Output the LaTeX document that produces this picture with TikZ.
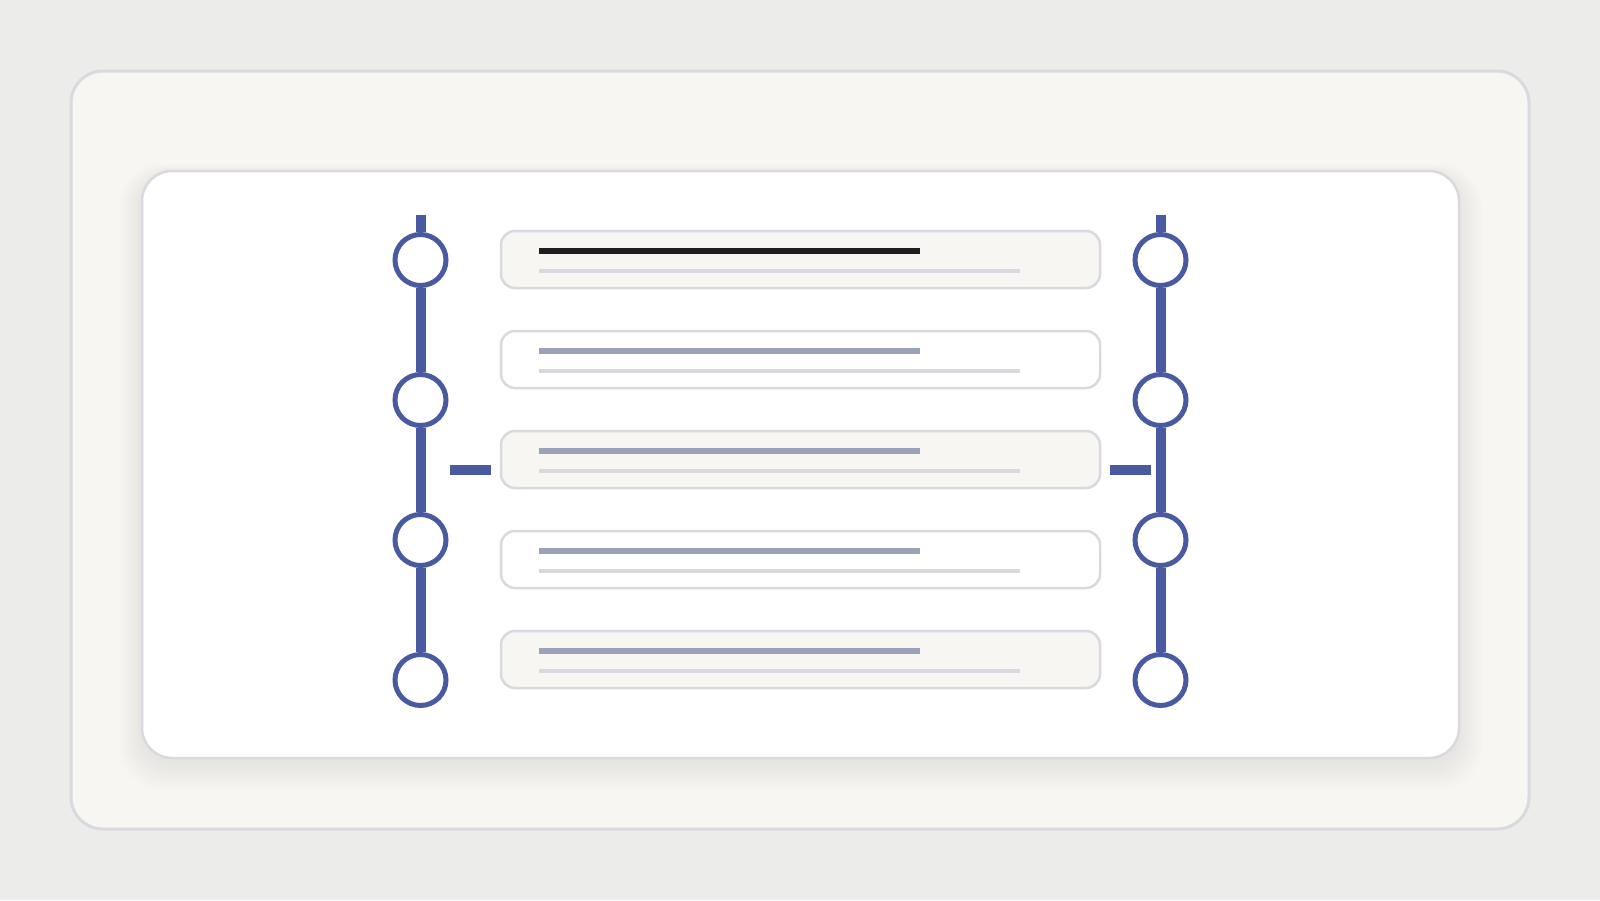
\documentclass[tikz,border=0pt]{standalone}
\usetikzlibrary{calc}
\definecolor{bgc}{HTML}{ECECEA}
\definecolor{paper}{HTML}{F7F6F2}
\definecolor{edge}{HTML}{D9D9DF}
\definecolor{tlblue}{HTML}{4A5AA0}
\definecolor{dark}{HTML}{1E1E1E}
\definecolor{muted}{HTML}{9BA1B8}
\tikzset{
  frame/.style={draw=edge, line width=3pt, rounded corners=32pt},
  stepdot/.style={circle, draw=tlblue, line width=5pt, fill=white, minimum size=51pt, inner sep=0pt},
  rail/.style={draw=tlblue, line width=10pt},
  tick/.style={draw=tlblue, line width=10pt},
  rowcard/.style={rectangle, draw=edge, line width=2.5pt, rounded corners=14pt, minimum width=599pt, minimum height=57pt, inner sep=0pt},
  titlebar/.style={line width=6pt},
  subbar/.style={draw=edge, line width=4pt},
}
\begin{document}
\begin{tikzpicture}[x=1pt,y=-1pt]
\useasboundingbox (0,0) rectangle (1600,900);
\fill[bgc] (0,0) rectangle (1600,900);
% outer frame
\path[frame, fill=paper] (71,71) rectangle (1529,829);
% soft shadow of inner card
\foreach \i in {1,...,16}{
  \fill[black, opacity=0.0035, rounded corners=30pt+\i pt]
    (142-\i*1.5,171-\i*0.9+6) rectangle (1459+\i*1.5,758+\i*1.7+6);
}
% inner card
\path[frame, fill=white, line width=2.5pt, rounded corners=30pt] (142,171) rectangle (1459,758);
% rails
\foreach \side/\x in {L/420.5,R/1160.5}{
  \coordinate (\side top) at (\x,215);
  \foreach \k/\y in {1/260,2/400,3/540,4/680}{
    \node[stepdot] (\side\k) at (\x,\y) {};
  }
  \draw[rail] (\side top) -- (\side1.north);
  \draw[rail] (\side1.south) -- (\side2.north);
  \draw[rail] (\side2.south) -- (\side3.north);
  \draw[rail] (\side3.south) -- (\side4.north);
}
% cards
\foreach \k/\fillc/\tc in {1/paper/dark,2/white/muted,3/paper/muted,4/white/muted,5/paper/muted}{
  \node[rowcard, fill=\fillc] (card\k) at (800.5,{259.5+100*(\k-1)}) {};
  \draw[titlebar, draw=\tc] ($(card\k.west)+(39,-8.5)$) -- ($(card\k.west)+(420,-8.5)$);
  \draw[subbar] ($(card\k.west)+(39,11.5)$) -- ($(card\k.west)+(520,11.5)$);
}
% side ticks
\coordinate (tickLa) at (450,470);
\coordinate (tickLb) at (491,470);
\coordinate (tickRa) at (1110,470);
\coordinate (tickRb) at (1151,470);
\draw[tick] (tickLa) -- (tickLb);
\draw[tick] (tickRa) -- (tickRb);
\end{tikzpicture}
\end{document}
